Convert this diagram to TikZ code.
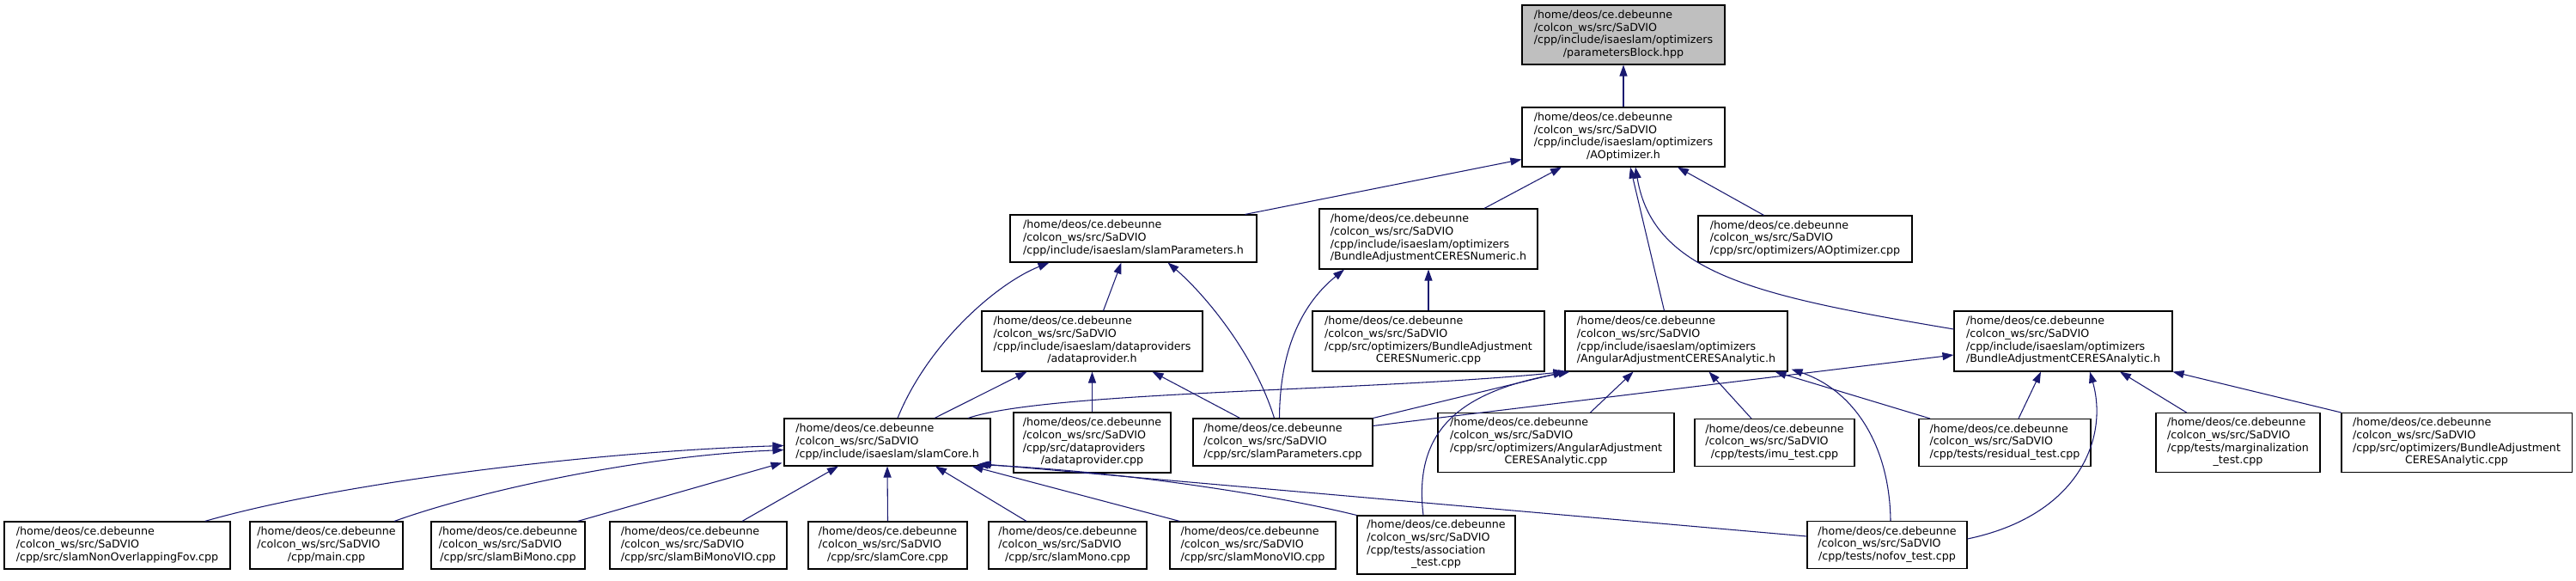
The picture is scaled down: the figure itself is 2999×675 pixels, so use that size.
\documentclass[tikz,border=0pt]{standalone}
\usepackage{fontspec}
\setmainfont{DejaVu Sans}
\usetikzlibrary{arrows.meta,calc}
\definecolor{midblue}{HTML}{191970}
\definecolor{fillgray}{HTML}{BFBFBF}
% file label: all lines left aligned, the last one centred
\newcommand{\fpath}[2]{\begin{tabular}{@{}l@{}}#1\\\multicolumn{1}{@{}c@{}}{#2}\end{tabular}}
\newcommand{\hd}{/home/deos/ce.debeunne\\/colcon\_ws/src/SaDVIO}

\begin{document}
\begin{tikzpicture}[x=0.75pt, y=-0.75pt,
    file/.style 2 args={draw, line width=0.8pt, fill=white, inner sep=0pt,
      minimum width=#1*0.75pt, minimum height=#2*0.75pt,
      font=\fontsize{9.5}{11}\selectfont},
    dep/.style={draw=midblue, line width=0.8pt,
      -{Triangle[length=9.75pt, width=6.75pt]}, midblue}]
\useasboundingbox (0,0) rectangle (2999,675);

% rank 0 and 1
\node[file={236}{69}, fill=fillgray] (pb) at (1890,40.5) {\fpath{\hd\\/cpp/include/isaeslam/optimizers}{/parametersBlock.hpp}};
\node[file={236}{69}] (aoh) at (1890,159.5) {\fpath{\hd\\/cpp/include/isaeslam/optimizers}{/AOptimizer.h}};

% rank 2
\node[file={287}{55}] (sph) at (1319.5,277.5) {\fpath{\hd}{/cpp/include/isaeslam/slamParameters.h}};
\node[file={254}{70}] (banh) at (1663,278) {\fpath{\hd\\/cpp/include/isaeslam/optimizers}{/BundleAdjustmentCERESNumeric.h}};
\node[file={249}{54}] (aoc) at (2101.5,278) {\fpath{\hd}{/cpp/src/optimizers/AOptimizer.cpp}};

% rank 3
\node[file={257}{70}] (adh) at (1271.5,397) {\fpath{\hd\\/cpp/include/isaeslam/dataproviders}{/adataprovider.h}};
\node[file={270}{70}] (banc) at (1663,397) {\fpath{\hd\\/cpp/src/optimizers/BundleAdjustment}{CERESNumeric.cpp}};
\node[file={259}{70}] (aah) at (1951.5,397) {\fpath{\hd\\/cpp/include/isaeslam/optimizers}{/AngularAdjustmentCERESAnalytic.h}};
\node[file={254}{70}] (baah) at (2402,397) {\fpath{\hd\\/cpp/include/isaeslam/optimizers}{/BundleAdjustmentCERESAnalytic.h}};

% rank 4
\node[file={240}{55}] (sch) at (1033,514.5) {\fpath{\hd}{/cpp/include/isaeslam/slamCore.h}};
\node[file={183}{70}] (adc) at (1271.5,515) {\fpath{\hd\\/cpp/src/dataproviders}{/adataprovider.cpp}};
\node[file={209}{55}] (spc) at (1493.5,514.5) {\fpath{\hd}{/cpp/src/slamParameters.cpp}};
\node[file={275}{69}] (aac) at (1811.5,515) {\fpath{\hd\\/cpp/src/optimizers/AngularAdjustment}{CERESAnalytic.cpp}};
\node[file={186}{55}] (imu) at (2066,515) {\fpath{\hd}{/cpp/tests/imu\_test.cpp}};
\node[file={200}{55}] (res) at (2334,515) {\fpath{\hd}{/cpp/tests/residual\_test.cpp}};
\node[file={191}{69}] (marg) at (2605.5,515) {\fpath{\hd\\/cpp/tests/marginalization}{\_test.cpp}};
\node[file={268}{69}] (baac) at (2860,515) {\fpath{\hd\\/cpp/src/optimizers/BundleAdjustment}{CERESAnalytic.cpp}};

% rank 5
\node[file={263}{55}] (nof) at (136.5,634.5) {\fpath{\hd}{/cpp/src/slamNonOverlappingFov.cpp}};
\node[file={178}{55}] (mainc) at (380,634.5) {\fpath{\hd}{/cpp/main.cpp}};
\node[file={179}{55}] (bim) at (591.5,634.5) {\fpath{\hd}{/cpp/src/slamBiMono.cpp}};
\node[file={206}{55}] (bimv) at (813,634.5) {\fpath{\hd}{/cpp/src/slamBiMonoVIO.cpp}};
\node[file={185}{55}] (scc) at (1033.5,634.5) {\fpath{\hd}{/cpp/src/slamCore.cpp}};
\node[file={184}{55}] (smo) at (1243,634.5) {\fpath{\hd}{/cpp/src/slamMono.cpp}};
\node[file={193}{55}] (smv) at (1458.5,634.5) {\fpath{\hd}{/cpp/src/slamMonoVIO.cpp}};
\node[file={184}{68}] (asc) at (1672,634) {\fpath{\hd\\/cpp/tests/association}{\_test.cpp}};
\node[file={186}{55}] (nft) at (2197,634) {\fpath{\hd}{/cpp/tests/nofov\_test.cpp}};

% includes of the optimizer headers
\draw[dep] (aoh.north) -- (pb.south);
\draw[dep] ($(sph.north)+(130,0)$) -- ($(aoh.west)+(0,26)$);
\draw[dep] ($(banh.north)+(65,0)$) -- ($(aoh.south)+(-72,0)$);
\draw[dep] ($(aoc.north)+(-48,0)$) -- ($(aoh.south)+(63,0)$);
\draw[dep] ($(aah.north)+(-14,0)$) -- ($(aoh.south)+(8,0)$);
\draw[dep] ($(baah.west)+(0,-14)$) .. controls (2050,345) and (1925,320) .. ($(aoh.south)+(14,0)$);

% slamParameters.h
\draw[dep] ($(adh.north)+(13,0)$) -- ($(sph.south)+(-14,0)$);
\draw[dep] ($(sch.north)+(12,0)$) .. controls (1080,400) and (1160,330) .. ($(sph.south)+(-98,0)$);
\draw[dep] ($(spc.north)+(-10,0)$) .. controls (1460,410) and (1400,340) .. ($(sph.south)+(40,0)$);

% BundleAdjustmentCERESNumeric.h
\draw[dep] (banc.north) -- (banh.south);
\draw[dep] ($(spc.north)+(-4,0)$) .. controls (1490,400) and (1520,350) .. ($(banh.south)+(-98,0)$);

% adataprovider.h
\draw[dep] ($(sch.north)+(55,0)$) -- ($(adh.south)+(-76,0)$);
\draw[dep] (adc.north) -- (adh.south);
\draw[dep] ($(spc.north)+(-50,0)$) -- ($(adh.south)+(70,0)$);

% AngularAdjustmentCERESAnalytic.h
\draw[dep] ($(sch.north)+(94,0)$) .. controls (1220,455) and (1600,455) .. (aah.south west);
\draw[dep] (spc.north east) -- (aah.south west);
\draw[dep] ($(aac.north)+(40,0)$) -- ($(aah.south)+(-50,0)$);
\draw[dep] ($(imu.north)+(-27,0)$) -- ($(aah.south)+(38,0)$);
\draw[dep] ($(res.north)+(-87,0)$) -- ($(aah.south)+(115,0)$);
\draw[dep] ($(asc.north)+(-15,0)$) .. controls (1645,500) and (1700,455) .. ($(aah.south west)+(6,0)$);
\draw[dep] ($(nft.north)+(4,0)$) .. controls (2200,520) and (2160,455) .. ($(aah.south east)+(4,-3)$);

% BundleAdjustmentCERESAnalytic.h
\draw[dep] ($(spc.east)+(0,-19)$) -- ($(baah.west)+(0,16)$);
\draw[dep] ($(res.north)+(16,0)$) -- ($(baah.south)+(-26,0)$);
\draw[dep] ($(nft.east)+(0,-7)$) .. controls (2420,600) and (2455,510) .. ($(baah.south)+(31,0)$);
\draw[dep] ($(marg.north)+(-60,0)$) -- ($(baah.south)+(66,0)$);
\draw[dep] (baac.north west) -- (baah.south east);

% slamCore.h
\draw[dep] ($(nof.north)+(102,0)$) .. controls (400,560) and (700,525) .. ($(sch.west)+(0,4)$);
\draw[dep] ($(mainc.north)+(79,0)$) .. controls (560,570) and (750,530) .. ($(sch.west)+(0,9)$);
\draw[dep] ($(bim.north)+(81,0)$) -- ($(sch.south west)+(-2,-4)$);
\draw[dep] ($(bimv.north)+(51,0)$) -- ($(sch.south)+(-57,0)$);
\draw[dep] (scc.north) -- (sch.south);
\draw[dep] ($(smo.north)+(-48,0)$) -- ($(sch.south)+(56,0)$);
\draw[dep] ($(smv.north)+(-85,0)$) -- ($(sch.south east)+(-22,0)$);
\draw[dep] (asc.north west) .. controls (1480,575) and (1300,548) .. ($(sch.south east)+(-16,-2)$);
\draw[dep] ($(nft.west)+(0,-10)$) -- ($(sch.south east)+(-13,-3)$);
\end{tikzpicture}
\end{document}
